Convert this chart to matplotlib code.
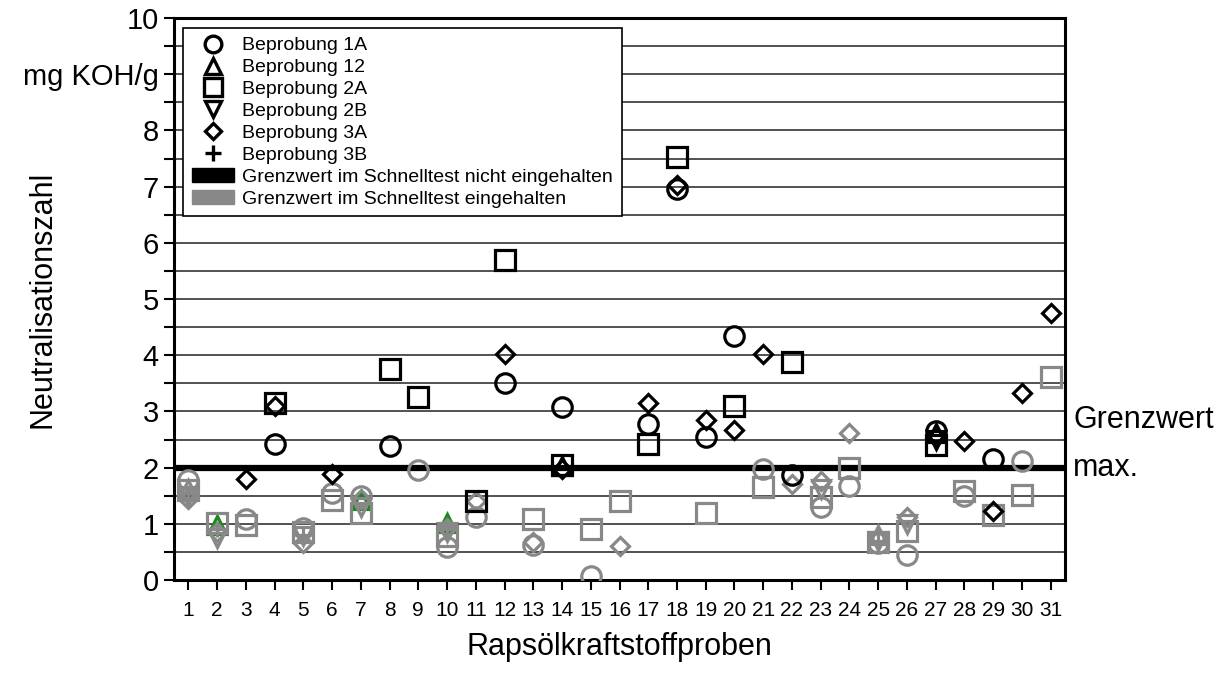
import matplotlib.pyplot as plt
from matplotlib.lines import Line2D
from matplotlib.patches import Patch
import numpy as np

plt.rcParams['font.family'] = ['Liberation Sans', 'DejaVu Sans']

# Beprobung 1A (circles)
b1a_x = [1, 3, 4, 5, 6, 7, 8, 9, 10, 11, 12, 13, 14, 15, 17, 18, 19, 20, 21, 22, 23, 24, 25, 26, 27, 28, 29, 30]
b1a_y = [1.78, 1.08, 2.42, 0.93, 1.55, 1.5, 2.38, 1.95, 0.58, 1.12, 3.5, 0.62, 3.08, 0.08, 2.78, 6.95, 2.55, 4.35,
         1.98, 1.87, 1.3, 1.68, 0.65, 0.45, 2.65, 1.5, 2.15, 2.12]
b1a_fail = [4, 8, 12, 14, 17, 18, 19, 20, 22, 27, 29]

# Beprobung 12 (triangle up)
b12_x = [1, 2, 7, 10, 14, 25, 27]
b12_y = [1.62, 0.98, 1.42, 1.02, 2.03, 0.8, 2.62]
b12_fail = [14, 27]
b12_green = [2, 7, 10]

# Beprobung 2A (squares)
b2a_x = list(range(1, 32))
b2a_y = [1.6, 1.02, 0.97, 3.15, 0.85, 1.42, 1.2, 3.75, 3.25, 0.78, 1.4, 5.7, 1.08, 2.05, 0.9, 1.4, 2.42, 7.52,
         1.2, 3.1, 1.65, 3.88, 1.48, 2.0, 0.68, 0.88, 2.4, 1.58, 1.15, 1.52, 3.62]
b2a_fail = [4, 8, 9, 11, 12, 14, 17, 18, 20, 22, 27]

# Beprobung 2B (triangle down)
b2b_x = [1, 2, 5, 7, 10, 23, 25, 26, 27]
b2b_y = [1.5, 0.75, 0.78, 1.3, 0.85, 1.62, 0.7, 1.0, 2.5]
b2b_fail = [27]

# Beprobung 3A (diamonds)
b3a_x = [1, 2, 3, 4, 5, 6, 7, 10, 11, 12, 13, 14, 16, 17, 18, 19, 20, 21, 22, 23, 24, 25, 26, 27, 28, 29, 30, 31]
b3a_y = [1.45, 0.85, 1.8, 3.1, 0.65, 1.88, 1.45, 0.92, 1.4, 4.02, 0.68, 1.98, 0.6, 3.15, 7.02, 2.85, 2.67, 4.02,
         1.7, 1.76, 2.62, 0.75, 1.12, 2.55, 2.48, 1.22, 3.32, 4.75]
b3a_fail = [3, 4, 6, 12, 14, 17, 18, 19, 20, 21, 27, 28, 29, 30, 31]

# Beprobung 3B (plus)
b3b_x = [1, 2, 5, 10, 25]
b3b_y = [1.55, 0.9, 0.8, 0.9, 0.7]
b3b_fail = []

grenzwert = 2.0

series = [
    ('Beprobung 1A', 'o', b1a_x, b1a_y, b1a_fail, []),
    ('Beprobung 12', '^', b12_x, b12_y, b12_fail, b12_green),
    ('Beprobung 2A', 's', b2a_x, b2a_y, b2a_fail, []),
    ('Beprobung 2B', 'v', b2b_x, b2b_y, b2b_fail, []),
    ('Beprobung 3A', 'D', b3a_x, b3a_y, b3a_fail, []),
    ('Beprobung 3B', '+', b3b_x, b3b_y, b3b_fail, []),
]

BLACK = '#000000'
GRAY = '#888888'
GREEN = '#1a8a1a'
sizes = {'o': 14, '^': 13, 's': 15, 'v': 13, 'D': 9.5, '+': 12}
leg_sizes = {'o': 12, '^': 12, 's': 13, 'v': 12, 'D': 8.5, '+': 11}

fig = plt.figure(figsize=(12.31, 6.89), dpi=100)
ax = fig.add_axes([174 / 1231, 1 - 580 / 689, 891 / 1231, 562 / 689])

# horizontal grid every 0.5
for yy in np.arange(0.5, 10, 0.5):
    ax.axhline(yy, color='#333333', lw=1.2, zorder=1)
ax.axhline(grenzwert, color='black', lw=4.5, zorder=2)

for name, m, xs, ys, fail, green in series:
    for x, y in zip(xs, ys):
        if x in green:
            col, z = GREEN, 2.5
        elif x in fail:
            col, z = BLACK, 4
        else:
            col, z = GRAY, 3
        ax.plot(x, y, linestyle='none', marker=m, markersize=sizes[m],
                markerfacecolor='none', markeredgecolor=col, markeredgewidth=2.3, zorder=z)

ax.set_xlim(0.5, 31.5)
ax.set_ylim(0, 10)
ax.set_xticks(range(1, 32))
ax.set_xticklabels([str(i) for i in range(1, 32)], fontsize=15)
yt = np.arange(0, 10.5, 0.5)
ax.set_yticks(yt)
ylabels = []
for v in yt:
    if v == 9:
        ylabels.append('mg KOH/g')
    elif v == int(v):
        ylabels.append(str(int(v)))
    else:
        ylabels.append('')
ax.set_yticklabels(ylabels, fontsize=21)
ax.tick_params(axis='both', direction='out', length=7, width=1.5, color='black')
ax.tick_params(axis='y', pad=4)
ax.tick_params(axis='x', pad=8)
for s in ax.spines.values():
    s.set_linewidth(2.2)

ax.set_ylabel('Neutralisationszahl', fontsize=22)
ax.yaxis.set_label_coords(-0.131, 0.5)
ax.set_xlabel('Rapsölkraftstoffproben', fontsize=22)
ax.xaxis.set_label_coords(0.5, -0.092)

ax.text(1.009, 2.85, 'Grenzwert', transform=ax.get_yaxis_transform(), fontsize=22,
        va='center', ha='left', clip_on=False)
ax.text(1.009, 2.0, 'max.', transform=ax.get_yaxis_transform(), fontsize=22,
        va='center', ha='left', clip_on=False)

handles = [Line2D([], [], linestyle='none', marker=m, markersize=leg_sizes[m], markerfacecolor='none',
                  markeredgecolor='black', markeredgewidth=2.4) for _, m, _, _, _, _ in series]
labels = [s[0] for s in series]
handles += [Patch(facecolor='black', edgecolor='black'), Patch(facecolor=GRAY, edgecolor=GRAY)]
labels += ['Grenzwert im Schnelltest nicht eingehalten', 'Grenzwert im Schnelltest eingehalten']
leg = ax.legend(handles, labels, loc='upper left', bbox_to_anchor=(0.01, 0.982), borderaxespad=0,
                fontsize=14, fancybox=False, framealpha=1, edgecolor='black', labelspacing=0.22,
                handlelength=2.2, handletextpad=0.4, borderpad=0.45)
leg.get_frame().set_linewidth(1.2)
leg.set_zorder(10)

fig.savefig('out.png', dpi=100)
